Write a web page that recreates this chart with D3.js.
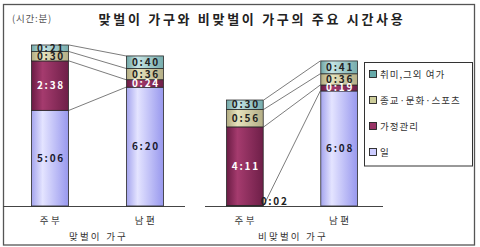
<!DOCTYPE html>
<html>
<head>
<meta charset="utf-8">
<script src="https://cdn.jsdelivr.net/npm/d3@7"></script>
<style>
  body { margin: 0; background: #fff; }
  text { font-family: "Noto Sans CJK KR", "Liberation Sans", sans-serif; }
</style>
</head>
<body>
<script>
// categories and groups
const categories = ["주부", "남편"];
const groups = ["맞벌이 가구", "비맞벌이 가구"];
const seriesNames = ["일", "가정관리", "종교·문화·스포츠", "취미,그외 여가"];
const legendOrder = ["취미,그외 여가", "종교·문화·스포츠", "가정관리", "일"];

// values in minutes, [주부, 남편]
const dualWork = [306, 380];
const dualHome = [158, 24];
const dualCulture = [30, 36];
const dualHobby = [21, 40];
const singleWork = [2, 368];
const singleHome = [251, 19];
const singleCulture = [56, 36];
const singleHobby = [30, 41];

const width = 480, height = 247;
const baseY = 206, topY = 45;

const colors = {
  "일": ["#a4a4ee", "#e4e4ff", "#9898ee"],
  "가정관리": ["#6a1c44", "#a53b6e", "#6e1f48"],
  "종교·문화·스포츠": ["#b0aa80", "#e6e2bc", "#b4ae86"],
  "취미,그외 여가": ["#6fa6a6", "#c6e4e4", "#76acac"]
};
const swatch = {
  "일": "#ccccff", "가정관리": "#993366",
  "종교·문화·스포츠": "#cccc99", "취미,그외 여가": "#66aaaa"
};
const labelColor = { "일": "#1a1a2e", "가정관리": "#fff",
  "종교·문화·스포츠": "#222", "취미,그외 여가": "#222" };

const fmt = m => Math.floor(m / 60) + ":" + String(m % 60).padStart(2, "0");

const panels = [
  { group: groups[0], values: [dualWork, dualHome, dualCulture, dualHobby], bars: [31, 164], axis: [3, 185] },
  { group: groups[1], values: [singleWork, singleHome, singleCulture, singleHobby], bars: [226, 358], axis: [205, 383] }
];

const toRows = p => categories.map((c, i) => {
  const row = { cat: c };
  seriesNames.forEach((s, k) => { row[s] = p.values[k][i]; });
  return row;
});

const stack = d3.stack().keys(seriesNames);
const maxTotal = d3.max(panels, p => d3.max(toRows(p), r => d3.sum(seriesNames, s => r[s])));

const yScale = d3.scaleLinear()
    .domain([0, maxTotal])
    .range([baseY, topY]);

const svg = d3.select("body")
    .append("svg")
    .attr("width", width)
    .attr("height", height);

// gradients
const defs = svg.append("defs");
seriesNames.forEach((s, k) => {
  const g = defs.append("linearGradient")
      .attr("id", "grad" + k)
      .attr("x1", "0%").attr("x2", "100%").attr("y1", "0%").attr("y2", "0%");
  g.append("stop").attr("offset", "0%").attr("stop-color", colors[s][0]);
  g.append("stop").attr("offset", "30%").attr("stop-color", colors[s][1]);
  g.append("stop").attr("offset", "100%").attr("stop-color", colors[s][2]);
});

// outer frame
svg.append("rect")
    .attr("x", 3.5).attr("y", 4.5)
    .attr("width", 471).attr("height", 240.5)
    .attr("fill", "none")
    .attr("stroke", "#555")
    .attr("stroke-width", 1.3);

// title
svg.append("text")
    .attr("x", 252).attr("y", 24)
    .attr("text-anchor", "middle")
    .attr("font-size", 13)
    .attr("font-weight", "bold")
    .attr("letter-spacing", "2.7px")
    .attr("fill", "#222")
    .text("맞벌이 가구와 비맞벌이 가구의 주요 시간사용");

svg.append("text")
    .attr("x", 12).attr("y", 22)
    .attr("font-size", 9.5)
    .attr("letter-spacing", "0.8px")
    .attr("fill", "#555")
    .text("(시간:분)");

panels.forEach(p => {
  const rows = toRows(p);
  const series = stack(rows);

  const xScale = d3.scaleBand()
      .domain(categories)
      .range(p.bars)
      .paddingInner(0.6)
      .paddingOuter(0);
  const bw = xScale.bandwidth();

  const g = svg.append("g");

  // connector lines
  series.forEach(s => {
    g.append("line")
        .attr("x1", xScale(categories[0]) + bw)
        .attr("y1", yScale(s[0][1]))
        .attr("x2", xScale(categories[1]))
        .attr("y2", yScale(s[1][1]))
        .attr("stroke", "#444")
        .attr("stroke-width", 0.7);
  });

  // baseline
  g.append("line")
      .attr("x1", p.axis[0]).attr("x2", p.axis[1])
      .attr("y1", baseY + 0.5).attr("y2", baseY + 0.5)
      .attr("stroke", "#444")
      .attr("stroke-width", 1.2);

  // bars
  series.forEach((s, k) => {
    g.append("g")
        .selectAll("rect")
        .data(s)
        .enter()
        .append("rect")
        .attr("x", d => xScale(d.data.cat) + 0.5)
        .attr("y", d => yScale(d[1]))
        .attr("width", bw - 1)
        .attr("height", d => yScale(d[0]) - yScale(d[1]))
        .attr("fill", "url(#grad" + k + ")")
        .attr("stroke", "#2a2a2a")
        .attr("stroke-width", 0.8);
  });

  // value labels
  series.forEach(s => {
    g.append("g")
        .selectAll("text")
        .data(s)
        .enter()
        .append("text")
        .attr("x", d => {
          const h = yScale(d[0]) - yScale(d[1]);
          return h < 3 ? xScale(d.data.cat) + bw + 11 : xScale(d.data.cat) + bw / 2 + 1;
        })
        .attr("y", d => {
          const h = yScale(d[0]) - yScale(d[1]);
          return h < 3 ? yScale(d[1]) - 0.5 : (yScale(d[0]) + yScale(d[1])) / 2 + 3.5;
        })
        .attr("text-anchor", "middle")
        .attr("font-family", "Liberation Sans, Arial, sans-serif")
        .attr("font-size", 10)
        .attr("font-weight", "bold")
        .attr("letter-spacing", "1.8px")
        .attr("fill", d => (yScale(d[0]) - yScale(d[1]) < 3) ? "#222" : labelColor[s.key])
        .text(d => fmt(d[1] - d[0]));
  });

  // category labels
  g.append("g")
      .selectAll("text")
      .data(categories)
      .enter()
      .append("text")
      .attr("x", d => xScale(d) + bw / 2 + 1)
      .attr("y", 224)
      .attr("text-anchor", "middle")
      .attr("font-size", 9.5)
      .attr("letter-spacing", "2.5px")
      .attr("fill", "#333")
      .text(d => d);

  g.append("text")
      .attr("x", (xScale(categories[0]) + xScale(categories[1]) + bw) / 2 + 1)
      .attr("y", 240)
      .attr("text-anchor", "middle")
      .attr("font-size", 9.5)
      .attr("letter-spacing", "2.2px")
      .attr("fill", "#333")
      .text(p.group);
});

// legend
const legend = svg.append("g");
legend.append("rect")
    .attr("x", 364.5).attr("y", 62.5)
    .attr("width", 108).attr("height", 103.5)
    .attr("fill", "#fff")
    .attr("stroke", "#333")
    .attr("stroke-width", 1);

const legendY = d3.scalePoint()
    .domain(legendOrder)
    .range([74, 152]);

const items = legend.selectAll("g.item")
    .data(legendOrder)
    .enter()
    .append("g")
    .attr("class", "item");

items.append("rect")
    .attr("x", 369.5)
    .attr("y", d => legendY(d) - 3.5)
    .attr("width", 7).attr("height", 7)
    .attr("fill", d => swatch[d])
    .attr("stroke", "#222")
    .attr("stroke-width", 0.9);

items.append("text")
    .attr("x", 380)
    .attr("y", d => legendY(d) + 3.5)
    .attr("font-size", 9.5)
    .attr("letter-spacing", "1px")
    .attr("fill", "#333")
    .text(d => d);
</script>
</body>
</html>
